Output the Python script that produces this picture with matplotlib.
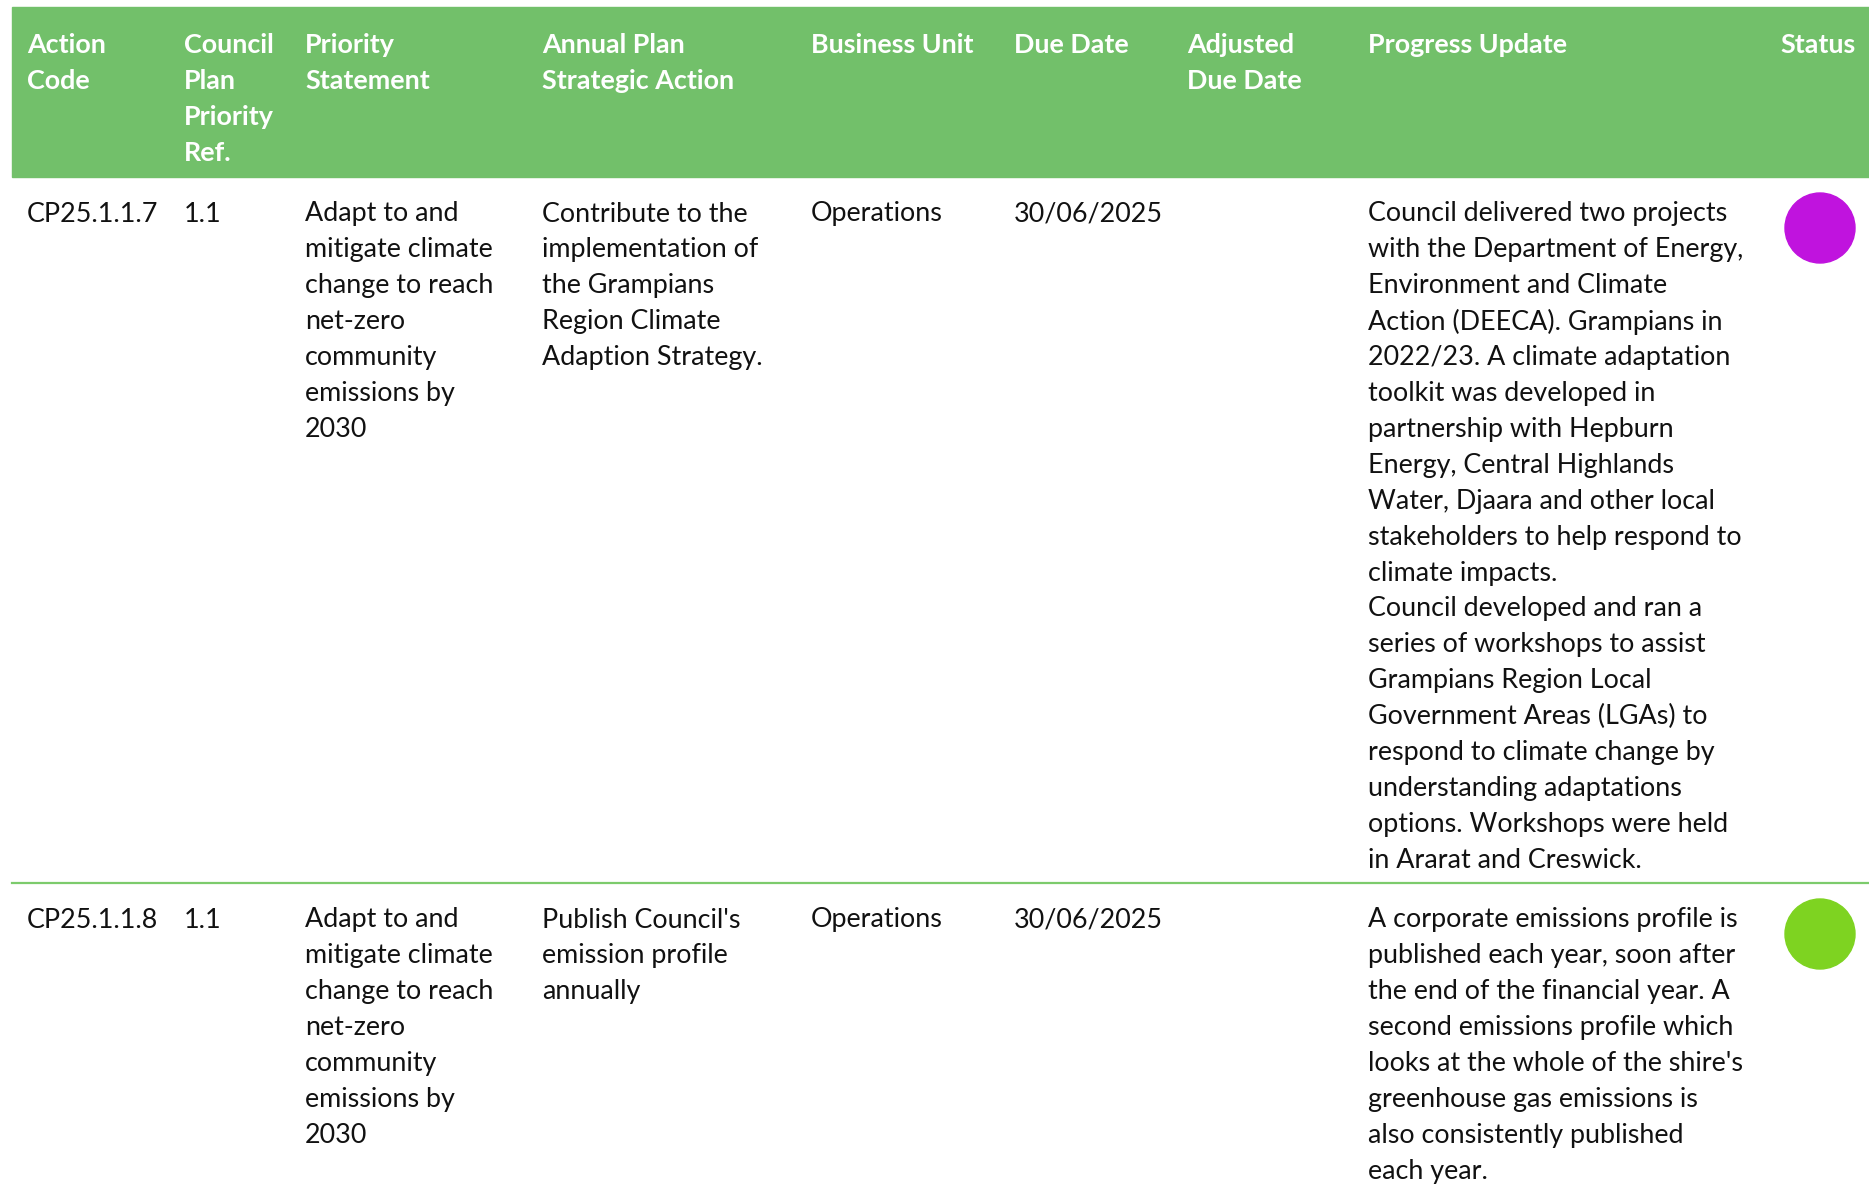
import matplotlib
matplotlib.use("Agg")
import matplotlib.pyplot as plt
from matplotlib.patches import Rectangle, Circle

W, H = 1869, 1187

headers = ["Action\nCode", "Council\nPlan\nPriority\nRef.", "Priority\nStatement",
           "Annual Plan\nStrategic Action", "Business Unit", "Due Date",
           "Adjusted\nDue Date", "Progress Update", "Status"]

action_codes = ["CP25.1.1.7", "CP25.1.1.8"]
plan_refs = ["1.1", "1.1"]
priority_statements = [
    "Adapt to and\nmitigate climate\nchange to reach\nnet-zero\ncommunity\nemissions by\n2030",
    "Adapt to and\nmitigate climate\nchange to reach\nnet-zero\ncommunity\nemissions by\n2030",
]
strategic_actions = [
    "Contribute to the\nimplementation of\nthe Grampians\nRegion Climate\nAdaption Strategy.",
    "Publish Council's\nemission profile\nannually",
]
business_units = ["Operations", "Operations"]
due_dates = ["30/06/2025", "30/06/2025"]
adjusted_dates = ["", ""]
progress = [
    "Council delivered two projects\nwith the Department of Energy,\nEnvironment and Climate\n"
    "Action (DEECA). Grampians in\n2022/23. A climate adaptation\ntoolkit was developed in\n"
    "partnership with Hepburn\nEnergy, Central Highlands\nWater, Djaara and other local\n"
    "stakeholders to help respond to\nclimate impacts.\nCouncil developed and ran a\n"
    "series of workshops to assist\nGrampians Region Local\nGovernment Areas (LGAs) to\n"
    "respond to climate change by\nunderstanding adaptations\noptions. Workshops were held\n"
    "in Ararat and Creswick.",
    "A corporate emissions profile is\npublished each year, soon after\nthe end of the financial year. A\n"
    "second emissions profile which\nlooks at the whole of the shire's\ngreenhouse gas emissions is\n"
    "also consistently published\neach year.",
]
status_colors = ["#C013DE", "#7ED321"]

col_x = [27, 184, 305, 542, 811, 1014, 1187, 1368]
status_right = 1856
header_green = "#72C06A"
font = "Lato"
fs = 19.4
line_h = 35.9

fig = plt.figure(figsize=(W / 100, H / 100), dpi=100)
ax = fig.add_axes([0, 0, 1, 1])
ax.set_xlim(0, W)
ax.set_ylim(H, 0)
ax.axis("off")

# header band
ax.add_patch(Rectangle((12, 7), W - 12, 170, color=header_green, zorder=1))
for i, h in enumerate(headers):
    for j, ln in enumerate(h.split("\n")):
        y = 45 + j * line_h
        if i < len(col_x):
            ax.text(col_x[i], y, ln, color="white", fontsize=fs, fontweight="bold",
                    family=font, ha="left", va="center", zorder=3)
        else:
            ax.text(status_right, y, ln, color="white", fontsize=fs, fontweight="bold",
                    family=font, ha="right", va="center", zorder=3)

rows = list(zip(action_codes, plan_refs, priority_statements, strategic_actions,
                business_units, due_dates, adjusted_dates, progress))
row_top = [214, 920]
for r, cells in enumerate(rows):
    for i, cell in enumerate(cells):
        for j, ln in enumerate(cell.split("\n")):
            ax.text(col_x[i], row_top[r] + j * line_h, ln, color="#111111", fontsize=fs,
                    family=font, ha="left", va="center", zorder=3)
    ax.add_patch(Circle((1820, row_top[r] + 14), 35, color=status_colors[r], zorder=3))

# row separator
ax.plot([12, W], [883, 883], color="#7CCB6C", lw=1.6, zorder=2)

fig.savefig("out.png", dpi=100, facecolor="white")
